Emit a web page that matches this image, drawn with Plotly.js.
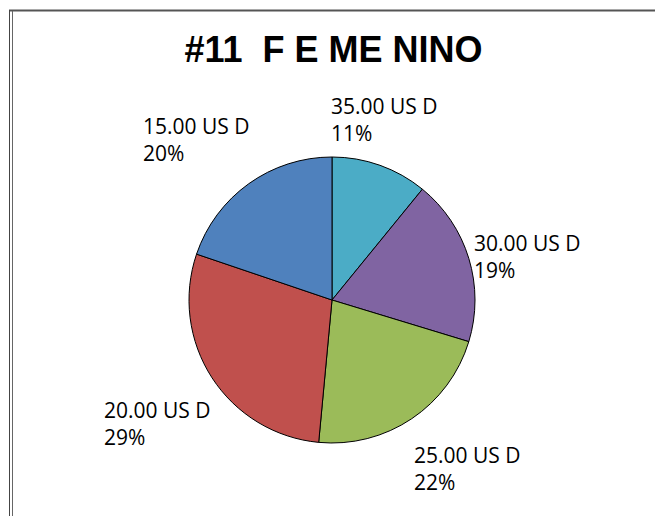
<!DOCTYPE html>
<html>
<head>
<meta charset="utf-8">
<script src="https://cdn.plot.ly/plotly-3.0.1.min.js"></script>
<style>
  html, body { margin: 0; padding: 0; background: #ffffff; }
  #chart { width: 655px; height: 516px; }
</style>
</head>
<body>
<div id="chart"></div>
<script>
// Data
const categories = ["35.00 US D", "30.00 US D", "25.00 US D", "20.00 US D", "15.00 US D"];
const percents = [11, 19, 22, 29, 20];
const sliceColors = ["#4BACC6", "#8064A2", "#9BBB59", "#C0504D", "#4F81BD"];
const chartTitle = "#11  F E ME NINO";

// Label anchor positions (paper px, top-left) – styling only
const labelPos = [[329, 90], [472, 227], [412, 439], [102, 394], [141, 110]];

const W = 655, H = 516;
const cx = 332, cy = 300, r = 143;

const trace = {
  type: "pie",
  values: percents,
  labels: categories,
  sort: false,
  direction: "clockwise",
  rotation: 0,
  textinfo: "none",
  hoverinfo: "label+percent",
  marker: { colors: sliceColors, line: { color: "#000000", width: 1 } },
  domain: {
    x: [(cx - r) / W, (cx + r) / W],
    y: [(H - cy - r) / H, (H - cy + r) / H]
  },
  showlegend: false
};

const annotations = categories.map((c, i) => ({
  xref: "paper", yref: "paper",
  x: labelPos[i][0] / W, y: 1 - labelPos[i][1] / H,
  xanchor: "left", yanchor: "top", align: "left",
  showarrow: false,
  text: c + "<br>" + percents[i] + "%",
  font: { family: "Open Sans, sans-serif", size: 21, color: "#000000" }
}));

const layout = {
  width: W, height: H,
  margin: { l: 0, r: 0, t: 0, b: 0 },
  paper_bgcolor: "#ffffff",
  title: {
    text: "<b>" + chartTitle + "</b>",
    x: 333.5 / W, xanchor: "center",
    y: 1 - 49 / H, yanchor: "middle",
    font: { family: "Liberation Sans, Arial, sans-serif", size: 36, color: "#000000" }
  },
  annotations: annotations,
  shapes: [
    { type: "line", xref: "paper", yref: "paper", x0: 9 / W, x1: 1, y0: 1 - 10.5 / H, y1: 1 - 10.5 / H, line: { color: "#555555", width: 2 } },
    { type: "line", xref: "paper", yref: "paper", x0: 9.5 / W, x1: 9.5 / W, y0: 0, y1: 1 - 10 / H, line: { color: "#444444", width: 1 } },
    { type: "line", xref: "paper", yref: "paper", x0: 12.5 / W, x1: 12.5 / W, y0: 0, y1: 1 - 11 / H, line: { color: "#666666", width: 1 } }
  ]
};

Plotly.newPlot("chart", [trace], layout, { displayModeBar: false, staticPlot: true });
</script>
</body>
</html>
